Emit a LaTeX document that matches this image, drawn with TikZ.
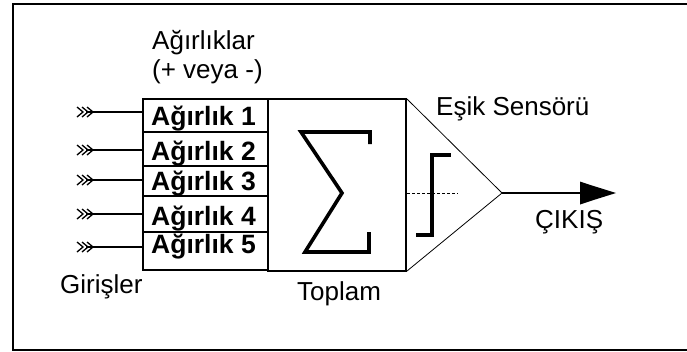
\documentclass[tikz,border=0pt]{standalone}
\usepackage{fontspec}
\setmainfont{Liberation Sans}
\begin{document}
\begin{tikzpicture}[x=1pt,y=-1pt,
  lbl/.style={inner sep=0pt,anchor=base west,font=\fontsize{26}{30}\selectfont},
  wlbl/.style={inner sep=0pt,anchor=base west,font=\fontsize{26.5}{30}\selectfont\bfseries},
  thinbox/.style={draw=black,line width=1.3pt},
  thickline/.style={line width=3.6pt,line join=miter},
  fletch/.style={line width=1.3pt}]
\useasboundingbox (0,0) rectangle (687,351);
\fill[white] (0,0) rectangle (687,351);
% frame (right side lies outside the picture)
\draw[line width=2pt] (687,4) -- (13,4) -- (13,350) -- (687,350);
% weights box
\coordinate (wtl) at (143,99);
\coordinate (wbr) at (268,270);
\draw[thinbox] (wtl) rectangle (wbr);
\foreach \yy in {132,166,196,232} \draw[thinbox] (143,\yy) -- (268,\yy);
% sum box
\coordinate (stl) at (268,99);
\coordinate (sbr) at (406,271);
\draw[thinbox] (stl) rectangle (sbr);
% sigma
\draw[thickline] (370,144) -- (370,132) -- (301,132) -- (342,193) -- (305,252) -- (369,252) -- (369,232);
% threshold triangle
\coordinate (tt) at (407,99);
\coordinate (tap) at (502,193);
\coordinate (tb) at (407,271);
\draw[line width=0.8pt] (tt) -- (tap) -- (tb);
\coordinate (dl) at (407,193);
\coordinate (dr) at (458,193);
\draw[line width=1pt,dash pattern=on 3pt off 2pt] (dl) -- (dr);
\draw[thickline] (416,235) -- (432,235) -- (432,155) -- (451,155);
% output
\coordinate (oend) at (584,193);
\draw[line width=1.3pt] (tap) -- (oend);
\fill (580,181.5) -- (592,185.5) -- (616,193) -- (592,200.5) -- (580,204.5) -- cycle;
% inputs
\foreach \yy [count=\i] in {112,150,180,214,247} {
  \coordinate (in\i) at (86,\yy);
  \coordinate (w\i) at (143,\yy);
  \draw[line width=1.3pt] (in\i) -- (w\i);
  \foreach \dx in {0,5,10} \draw[fletch] (77+\dx,\yy-5) -- (83+\dx,\yy) -- (77+\dx,\yy+5);
}
% texts
\node[lbl] (agir) at (152,49) {Ağırlıklar};
\node[lbl] (pm) at (152,78) {(+ veya -)};
\node[wlbl] (a1) at (151,125) {Ağırlık 1};
\node[wlbl] (a2) at (151,160) {Ağırlık 2};
\node[wlbl] (a3) at (151,190) {Ağırlık 3};
\node[wlbl] (a4) at (151,225) {Ağırlık 4};
\node[wlbl] (a5) at (151,253) {Ağırlık 5};
\node[lbl] (esik) at (436,115) {Eşik Sensörü};
\node[lbl] (cikis) at (535,228) {ÇIKIŞ};
\node[lbl] (gir) at (60,293) {Girişler};
\node[lbl] (top) at (297,300.7) {Toplam};
\end{tikzpicture}
\end{document}
